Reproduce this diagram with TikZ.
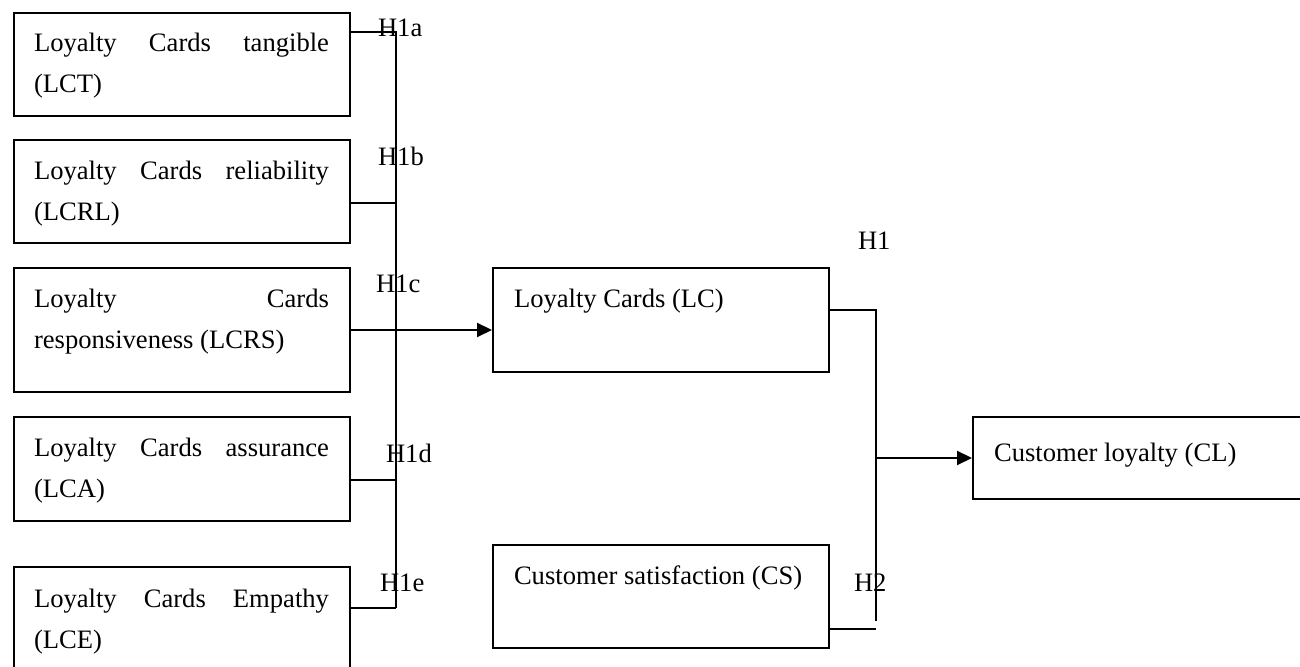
\documentclass[tikz,border=0pt]{standalone}
\usepackage{fontspec}
\setmainfont{Liberation Serif}
\usetikzlibrary{arrows.meta}
\begin{document}
\begin{tikzpicture}[x=0.5pt,y=-0.5pt,
  line width=1pt,
  box/.style={draw, line width=1pt, inner sep=0pt, anchor=north west, minimum width=168pt},
  txt/.style={inner sep=0pt, anchor=base west, font=\fontsize{13.3}{20.5}\selectfont},
  arr/.style={-{Triangle[length=7.5pt,width=7pt]}}]
\useasboundingbox (0,0) rectangle (1300,667);
\clip (0,0) rectangle (1300,667);
% boxes
\node[box, minimum height=51.5pt] (b1) at (13,12) {};
\node[box, minimum height=51.5pt] (b2) at (13,139) {};
\node[box, minimum height=62pt] (b3) at (13,267) {};
\node[box, minimum height=52pt] (b4) at (13,416) {};
\node[box, minimum height=60pt] (b5) at (13,566) {};
\node[box, minimum height=52pt] (lc) at (492,267) {};
\node[box, minimum height=51.5pt] (cs) at (492,544) {};
\node[box, minimum width=180pt, minimum height=41pt] (cl) at (972,416) {};
% texts
\node[txt] (t1) at (33,52) {\parbox[t]{147.5pt}{Loyalty\hfill Cards\hfill tangible\\(LCT)}};
\node[txt] (t2) at (33,180) {\parbox[t]{147.5pt}{Loyalty\hfill Cards\hfill reliability\\(LCRL)}};
\node[txt] (t3) at (33,308) {\parbox[t]{147.5pt}{Loyalty\hfill Cards\\responsiveness (LCRS)}};
\node[txt] (t4) at (33,457) {\parbox[t]{147.5pt}{Loyalty\hfill Cards\hfill assurance\\(LCA)}};
\node[txt] (t5) at (33,607) {\parbox[t]{147.5pt}{Loyalty\hfill Cards\hfill Empathy\\(LCE)}};
\node[txt] (t6) at (513,308) {Loyalty Cards (LC)};
\node[txt] (t7) at (513,584) {Customer satisfaction (CS)};
\node[txt] (t8) at (993,462) {Customer loyalty (CL)};
% hypothesis labels
\node[txt] (h1a) at (377,37) {H1a};
\node[txt] (h1b) at (377,166) {H1b};
\node[txt] (h1c) at (375,293) {H1c};
\node[txt] (h1d) at (385,463) {H1d};
\node[txt] (h1e) at (379,591) {H1e};
\node[txt] (h1) at (857,250) {H1};
\node[txt] (h2) at (853,591) {H2};
% bus coordinates
\coordinate (bt) at (396,32);
\coordinate (bb) at (396,608);
\coordinate (jx) at (876,621);
\coordinate (jm) at (876,458);
% left connectors
\draw (b1.north east) ++(0,20) coordinate (c1) -- (bt) -- (bb);
\draw (b2.north east) ++(0,64) coordinate (c2) -- (c2 -| bt);
\draw[arr] (b3.north east) ++(0,63) coordinate (c3) -- (c3 -| lc.west);
\draw (b4.north east) ++(0,64) coordinate (c4) -- (c4 -| bt);
\draw (b5.north east) ++(0,42) coordinate (c5) -- (bb);
% right connectors
\draw (lc.north east) ++(0,43) coordinate (c6) -- (c6 -| jx) -- (jx);
\draw (cs.north east) ++(0,85) coordinate (c7) -- (c7 -| jx);
\draw[arr] (jm) -- (jm -| cl.west);
\end{tikzpicture}
\end{document}
